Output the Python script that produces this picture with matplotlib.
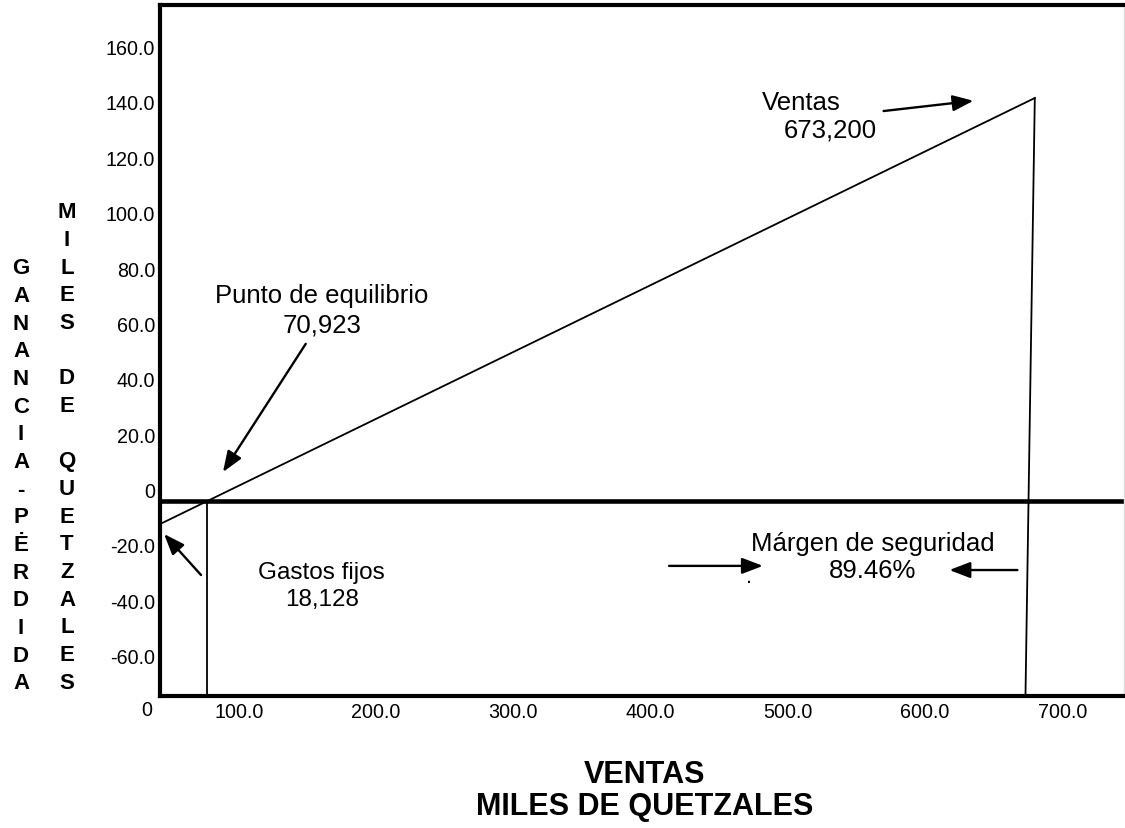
import matplotlib
matplotlib.use("Agg")
import matplotlib.pyplot as plt

plt.rcParams['font.family'] = ['Liberation Sans', 'DejaVu Sans']

W, H = 1125, 829

# valores (miles de quetzales)
x_ticks = [100, 200, 300, 400, 500, 600, 700]
x_labels = ['100.0', '200.0', '300.0', '400.0', '500.0', '600.0', '700.0']
y_ticks = [160, 140, 120, 100, 80, 60, 40, 20, 0, -20, -40, -60]
y_labels = ['160.0', '140.0', '120.0', '100.0', '80.0', '60.0', '40.0', '20.0', '0',
            '-20.0', '-40.0', '-60.0']

linea_cero_y = -4.2          # linea gruesa de equilibrio
utilidad_x = [42.5, 680.0]    # linea de ventas / utilidad
utilidad_y = [-12.5, 141.4]
equilibrio_x = 76.9           # punto de equilibrio (70,923)
ventas_x = [680.0, 673.2]     # ventas 673,200
ventas_y = [141.4, -74.6]

x_min, x_max = 42.5, 745.0
y_min, y_max = -74.6, 175.0


def px(x, y):
    # pixel -> fraccion de figura
    return x / W, 1 - y / H


fig = plt.figure(figsize=(W / 100, H / 100), dpi=100)
l, b = px(160, 697)
r, t = px(1124, 6)
ax = fig.add_axes([l, b, r - l, t - b])

ax.set_xlim(x_min, x_max)
ax.set_ylim(y_min, y_max)

ax.plot(utilidad_x, utilidad_y, color='black', lw=1.3)
ax.axhline(linea_cero_y, color='black', lw=3.3)
ax.plot([equilibrio_x, equilibrio_x], [linea_cero_y, y_min], color='black', lw=1.3)
ax.plot(ventas_x, ventas_y, color='black', lw=1.3)

for side in ['left', 'top', 'bottom']:
    ax.spines[side].set_linewidth(3.0)
    ax.spines[side].set_color('black')
ax.spines['right'].set_color('#dddddd')
ax.spines['right'].set_linewidth(1.0)

ax.set_xticks(x_ticks)
ax.set_xticklabels(x_labels)
ax.set_yticks(y_ticks)
ax.set_yticklabels(y_labels)
ax.tick_params(axis='both', length=0, labelsize=14.2, colors='black')
ax.tick_params(axis='x', pad=4)
ax.tick_params(axis='y', pad=3.5)

# "0" del origen en el eje x
fig.text(*px(147, 711), '0', fontsize=14.2, ha='center', va='center')

flecha = dict(arrowstyle='-|>,head_length=0.7,head_width=0.27', mutation_scale=18,
              color='black', lw=1.7, shrinkA=0, shrinkB=0)

# Punto de equilibrio
ax.text(160.4, 65.0, 'Punto de equilibrio\n70,923', fontsize=18.5, ha='center',
        va='center', linespacing=1.3)
ax.annotate('', xy=(88.4, 6.3), xytext=(148.7, 52.6), arrowprops=flecha)

# Gastos fijos
ax.text(160.4, -34.7, 'Gastos fijos\n18,128', fontsize=17.5, ha='center',
        va='center', linespacing=1.25)
ax.annotate('', xy=(45.5, -16.1), xytext=(72.4, -30.9), arrowprops=flecha)

# Ventas
ax.text(481.0, 140.0, 'Ventas', fontsize=18.5, ha='left', va='center')
ax.text(496.7, 130.2, '673,200', fontsize=18.5, ha='left', va='center')
ax.annotate('', xy=(635.3, 140.4), xytext=(569.8, 136.7), arrowprops=flecha)

# Margen de seguridad
ax.text(561.8, -24.2, 'Márgen de seguridad\n89.46%', fontsize=18.5, ha='center',
        va='center', linespacing=1.15)
ax.annotate('', xy=(481.8, -27.6), xytext=(413.5, -27.6), arrowprops=flecha)
ax.annotate('', xy=(617.8, -29.1), xytext=(667.3, -29.1), arrowprops=flecha)
ax.text(471.6, -31.3, '.', fontsize=16, ha='center', va='center')

# titulo vertical del eje y, letra por letra
col1 = 'GANANCIA-PĖRDIDA'
col2 = 'MILES DE QUETZALES'
paso = 27.65
for i, c in enumerate(col1):
    fig.text(*px(21, 269 + paso * i), c, fontsize=16, fontweight='bold',
             ha='center', va='center')
for i, c in enumerate(col2):
    fig.text(*px(67, 213 + paso * i), c, fontsize=16, fontweight='bold',
             ha='center', va='center')

# titulo del eje x
fig.text(*px(645, 775), 'VENTAS', fontsize=22, fontweight='bold', ha='center', va='center')
fig.text(*px(645, 807), 'MILES DE QUETZALES', fontsize=22, fontweight='bold',
         ha='center', va='center')

fig.savefig('out.png', dpi=100)
